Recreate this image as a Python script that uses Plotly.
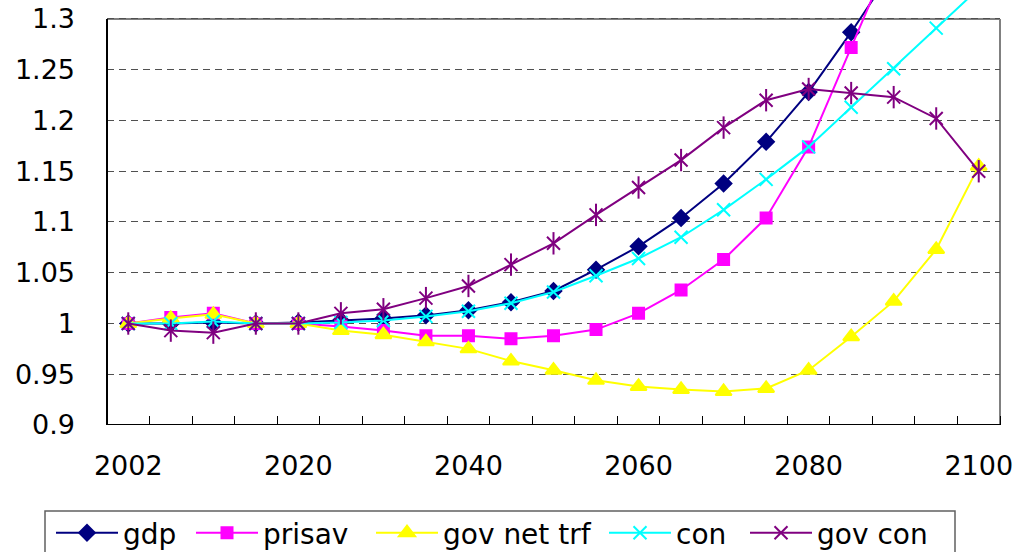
import plotly.graph_objects as go

years = ["2002", "2005", "2010", "2015", "2020", "2025", "2030", "2035", "2040", "2045",
         "2050", "2055", "2060", "2065", "2070", "2075", "2080", "2085", "2090", "2095", "2100"]
year_labels = ["2002", "2020", "2040", "2060", "2080", "2100"]

gdp = [1.000, 1.000, 1.001, 1.000, 1.001, 1.003, 1.005, 1.008, 1.013, 1.021, 1.032,
       1.053, 1.076, 1.104, 1.138, 1.179, 1.228, 1.287, 1.350, 1.420, 1.500]
prisav = [1.000, 1.006, 1.010, 1.000, 1.000, 0.997, 0.993, 0.988, 0.988, 0.985, 0.988,
          0.994, 1.010, 1.033, 1.063, 1.104, 1.174, 1.272, 1.370, 1.500, 1.650]
gov_net_trf = [1.000, 1.005, 1.009, 1.000, 1.000, 0.993, 0.989, 0.982, 0.975, 0.963, 0.954,
               0.944, 0.938, 0.935, 0.933, 0.936, 0.954, 0.987, 1.022, 1.073, 1.155]
con = [1.000, 1.000, 1.002, 1.000, 1.000, 1.001, 1.003, 1.007, 1.012, 1.020, 1.031,
       1.047, 1.064, 1.085, 1.112, 1.142, 1.174, 1.213, 1.251, 1.291, 1.330]
gov_con = [1.000, 0.993, 0.991, 1.000, 1.000, 1.010, 1.014, 1.025, 1.037, 1.058, 1.079,
           1.107, 1.134, 1.161, 1.193, 1.220, 1.231, 1.227, 1.223, 1.202, 1.150]

y_ticks = [0.9, 0.95, 1.0, 1.05, 1.1, 1.15, 1.2, 1.25, 1.3]
y_labels = ["0.9", "0.95", "1", "1.05", "1.1", "1.15", "1.2", "1.25", "1.3"]

idx = list(range(len(years)))
label_pos = [years.index(y) for y in year_labels]

FONT = "DejaVu Sans"
W, H = 1021, 552
ML, MR, MT, MB = 107, 21, 0, 127
PW, PH = W - ML - MR, H - MT - MB
Y_MIN, Y_MAX = 0.9, 1.3
Y_TOP = 1.3187  # lines may run slightly above the framed area

def px_x(px):
    return (px - ML) / PW

def px_y(py):
    return (H - MB - py) / PH

fig = go.Figure()

# one legend per series so each entry sits at its own spot in the key row
entry_left = [51, 191, 371, 604, 745]
series = [
    ("gdp", gdp, "#000080", "diamond", 12),
    ("prisav", prisav, "#FF00FF", "square", 11),
    ("gov net trf", gov_net_trf, "#FFFF00", "triangle-up", 14),
    ("con", con, "#00FFFF", "x-thin-open", 13),
    ("gov con", gov_con, "#800080", "x-thin-open", 13),
]

legends = {}
for k, (name, values, color, symbol, size) in enumerate(series):
    lname = "legend" if k == 0 else f"legend{k + 1}"
    fig.add_trace(go.Scatter(
        x=idx, y=values, name=name, mode="lines+markers",
        line=dict(color=color, width=2),
        marker=dict(symbol=symbol, size=size, color=color,
                    line=dict(color=color, width=2)),
        legendgroup=name, legend=lname, cliponaxis=False,
    ))
    legends[lname] = dict(
        orientation="h", x=px_x(entry_left[k]), xanchor="left",
        y=px_y(533), yanchor="middle",
        borderwidth=0, bgcolor="rgba(0,0,0,0)",
        font=dict(family=FONT, size=28, color="#000000"),
        itemwidth=62,
    )

# vertical stroke completes the six-armed star marker
fig.add_trace(go.Scatter(
    x=idx, y=gov_con, mode="markers", showlegend=False, legendgroup="gov con",
    marker=dict(symbol="line-ns-open", size=16, color="#800080",
                line=dict(color="#800080", width=2)),
    cliponaxis=False, hoverinfo="skip",
))

shapes = [
    # frame of the plotting area
    dict(type="line", xref="paper", yref="y", x0=0, x1=1, y0=Y_MAX, y1=Y_MAX,
         line=dict(color="#808080", width=2), layer="below"),
    dict(type="line", xref="paper", yref="y", x0=1, x1=1, y0=Y_MIN, y1=Y_MAX,
         line=dict(color="#808080", width=2), layer="below"),
    dict(type="line", xref="paper", yref="y", x0=0, x1=0, y0=Y_MIN, y1=Y_MAX,
         line=dict(color="#000000", width=2), layer="above"),
    dict(type="line", xref="paper", yref="y", x0=0, x1=1, y0=Y_MIN, y1=Y_MIN,
         line=dict(color="#000000", width=2), layer="above"),
    # box around the key
    dict(type="rect", xref="paper", yref="paper",
         x0=px_x(45), x1=px_x(955), y0=px_y(511), y1=px_y(575),
         line=dict(color="#606060", width=1.5), fillcolor="rgba(0,0,0,0)"),
]

fig.update_layout(
    width=W, height=H,
    margin=dict(l=ML, r=MR, t=MT, b=MB, autoexpand=False),
    paper_bgcolor="white", plot_bgcolor="white",
    font=dict(family=FONT, size=27, color="#000000"),
    shapes=shapes,
    showlegend=True,
    xaxis=dict(
        range=[-0.5, len(years) - 0.5], tickvals=label_pos, ticktext=year_labels,
        showgrid=False, zeroline=False, showline=False, ticks="",
        ticklabelstandoff=22,
        minor=dict(tick0=0.5, dtick=1, ticks="inside", ticklen=9,
                   tickcolor="#000000", tickwidth=1, showgrid=False),
    ),
    yaxis=dict(
        range=[Y_MIN, Y_TOP], tickvals=y_ticks, ticktext=y_labels,
        showgrid=True, gridcolor="#505050", gridwidth=1, griddash="7px,5px",
        zeroline=False, showline=False, ticks="", ticklabelstandoff=31,
    ),
    **legends,
)

fig.write_html("out.html")
